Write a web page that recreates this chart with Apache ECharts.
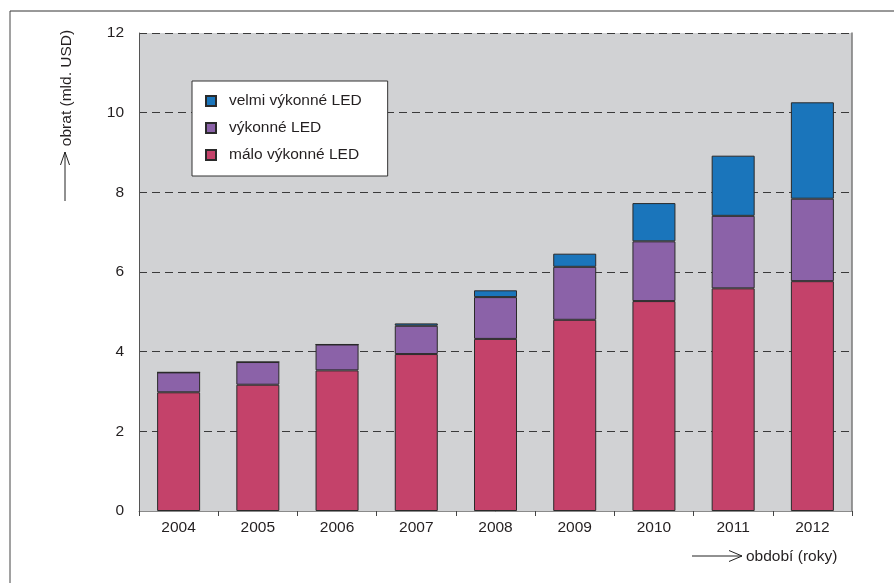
<!DOCTYPE html>
<html>
<head>
<meta charset="utf-8">
<script src="https://cdn.jsdelivr.net/npm/echarts@6/dist/echarts.min.js"></script>
<style>html,body{margin:0;padding:0;background:#fff}#c{width:894px;height:583px}</style>
</head>
<body>
<div id="c"></div>
<script>
const years = ['2004','2005','2006','2007','2008','2009','2010','2011','2012'];
const maloVykonne = [2.98, 3.17, 3.53, 3.94, 4.32, 4.80, 5.27, 5.59, 5.77];
const vykonne = [0.50, 0.57, 0.65, 0.71, 1.05, 1.33, 1.50, 1.82, 2.07];
const velmiVykonne = [0, 0, 0, 0.06, 0.17, 0.33, 0.96, 1.51, 2.42];
const yTicks = [0, 2, 4, 6, 8, 10, 12];
const names = ['velmi výkonné LED', 'výkonné LED', 'málo výkonné LED'];

const font = 'Liberation Sans, Arial, Helvetica, sans-serif';
const txt = '#231f20';
const fs = 15.5;
const chart = echarts.init(document.getElementById('c'));
const barStyle = (c) => ({ color: c, borderColor: '#2a2a2a', borderWidth: 1 });

chart.setOption({
  animation: false,
  textStyle: { fontFamily: font, color: txt },
  grid: { left: 139, right: 42, top: 33, bottom: 72, show: true, backgroundColor: '#d1d2d4', borderWidth: 0 },
  legend: {
    data: names,
    orient: 'vertical',
    left: 192, top: 81,
    backgroundColor: '#fff',
    borderColor: '#333',
    borderWidth: 1,
    borderRadius: 0,
    padding: [12, 26, 13, 13],
    itemWidth: 10, itemHeight: 10,
    itemGap: 11,
    icon: 'rect',
    textStyle: { fontFamily: font, fontSize: fs, color: txt, lineHeight: 14, padding: [0, 0, 0, 8] }
  },
  xAxis: {
    type: 'category',
    data: years,
    axisLine: { lineStyle: { color: '#8a8a8a', width: 1 } },
    axisTick: { show: true, length: 5, lineStyle: { color: '#444' } },
    axisLabel: { fontFamily: font, fontSize: fs, color: txt, margin: 9 }
  },
  yAxis: [{
    type: 'value', min: 0, max: 12, interval: 2,
    axisLine: { show: true, lineStyle: { color: '#555', width: 1 } },
    axisTick: { show: false },
    axisLabel: { fontFamily: font, fontSize: fs, color: txt, margin: 15,
      formatter: v => yTicks.includes(v) ? String(v) : '' },
    splitLine: { show: true, lineStyle: { color: '#3a3a3a', type: [8, 5], width: 1 } }
  }, {
    type: 'value', min: 0, max: 12, interval: 2, position: 'right',
    axisLine: { show: true, lineStyle: { color: '#7a7a7a', width: 1.5 } },
    axisTick: { show: false }, axisLabel: { show: false }, splitLine: { show: false }
  }],
  series: [
    { name: names[2], type: 'bar', stack: 't', data: maloVykonne, barWidth: 43, itemStyle: barStyle('#c4426a') },
    { name: names[1], type: 'bar', stack: 't', data: vykonne, barWidth: 43, itemStyle: barStyle('#8b62a8') },
    { name: names[0], type: 'bar', stack: 't', data: velmiVykonne, barWidth: 43, itemStyle: barStyle('#1a75bb') }
  ],
  graphic: [
    { type: 'line', shape: { x1: 10, y1: 11, x2: 894, y2: 11 }, style: { stroke: '#333', lineWidth: 1 } },
    { type: 'line', shape: { x1: 10, y1: 11, x2: 10, y2: 583 }, style: { stroke: '#444', lineWidth: 1 } },
    // y axis title with arrow
    { type: 'line', shape: { x1: 65, y1: 152, x2: 65, y2: 201 }, style: { stroke: '#222', lineWidth: 1 } },
    { type: 'polyline', shape: { points: [[60.5, 165], [65, 152], [69.5, 165]] }, style: { stroke: '#222', lineWidth: 1, fill: null } },
    { type: 'text', x: 67, y: 88, rotation: Math.PI / 2,
      style: { text: 'obrat (mld. USD)', fontFamily: font, fontSize: fs, fill: txt, align: 'center', verticalAlign: 'middle' } },
    // x axis title with arrow
    { type: 'line', shape: { x1: 692, y1: 556, x2: 742, y2: 556 }, style: { stroke: '#222', lineWidth: 1 } },
    { type: 'polyline', shape: { points: [[729, 550.5], [742, 556], [729, 561.5]] }, style: { stroke: '#222', lineWidth: 1, fill: null } },
    { type: 'text', x: 746, y: 557,
      style: { text: 'období (roky)', fontFamily: font, fontSize: fs, fill: txt, align: 'left', verticalAlign: 'middle' } }
  ]
});
</script>
</body>
</html>
